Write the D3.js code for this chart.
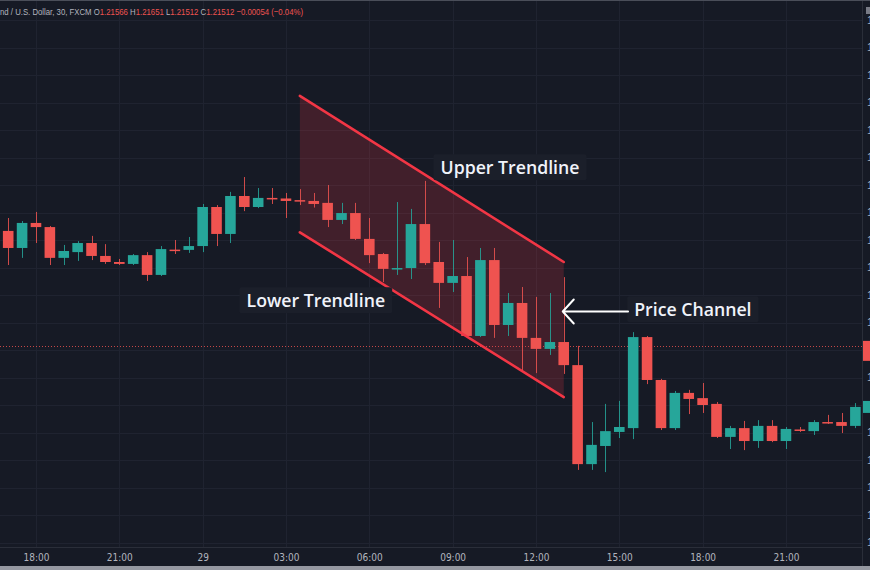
<!DOCTYPE html>
<html>
<head>
<meta charset="utf-8">
<title>GBP/USD 30 min, price channel</title>
<script src="https://d3js.org/d3.v7.min.js"></script>
<style>
  body { margin: 0; background: #161a25; }
  svg { display: block; }
</style>
</head>
<body>
<div id="chart"></div>
<script>

// candles, 30 min each, first one at 16:30 (index -1)
var firstIndex = -1;
var opens = [1.22100, 1.21933, 1.21871, 1.21962, 1.21947, 1.21835, 1.21856, 1.21889, 1.21842, 1.21820,
  1.21813, 1.21845, 1.21773, 1.21865, 1.21864, 1.21878, 1.22020, 1.21922, 1.22060, 1.22020,
  1.22053, 1.22051, 1.22045, 1.22042, 1.22035, 1.21973, 1.21998, 1.21904, 1.21849, 1.21795,
  1.21798, 1.21958, 1.21820, 1.21744, 1.21769, 1.21551, 1.21827, 1.21591, 1.21671, 1.21544,
  1.21504, 1.21529, 1.21445, 1.21085, 1.21151, 1.21202, 1.21216, 1.21547, 1.21391, 1.21216,
  1.21344, 1.21325, 1.21304, 1.21184, 1.21216, 1.21169, 1.21224, 1.21169, 1.21211, 1.21205,
  1.21238, 1.21238, 1.21224];
var highs = [1.22118, 1.21980, 1.21969, 1.22002, 1.21951, 1.21882, 1.21896, 1.21915, 1.21885, 1.21831,
  1.21849, 1.21856, 1.21878, 1.21900, 1.21911, 1.22031, 1.22027, 1.22075, 1.22129, 1.22089,
  1.22089, 1.22071, 1.22085, 1.22071, 1.22100, 1.22035, 1.22035, 1.21980, 1.21853, 1.22038,
  1.22013, 1.22115, 1.21893, 1.21900, 1.21838, 1.21871, 1.21871, 1.21707, 1.21729, 1.21693,
  1.21707, 1.21765, 1.21515, 1.21238, 1.21304, 1.21315, 1.21565, 1.21551, 1.21395, 1.21351,
  1.21355, 1.21380, 1.21311, 1.21224, 1.21242, 1.21245, 1.21245, 1.21220, 1.21220, 1.21245,
  1.21264, 1.21271, 1.21307];
var lows = [1.21925, 1.21809, 1.21835, 1.21889, 1.21809, 1.21809, 1.21824, 1.21827, 1.21813, 1.21809,
  1.21809, 1.21751, 1.21769, 1.21849, 1.21853, 1.21856, 1.21878, 1.21889, 1.22005, 1.22016,
  1.22031, 1.21980, 1.22027, 1.22018, 1.21947, 1.21958, 1.21900, 1.21816, 1.21747, 1.21773,
  1.21758, 1.21809, 1.21653, 1.21711, 1.21547, 1.21547, 1.21544, 1.21551, 1.21420, 1.21416,
  1.21482, 1.21413, 1.21064, 1.21064, 1.21056, 1.21180, 1.21176, 1.21376, 1.21209, 1.21209,
  1.21267, 1.21271, 1.21180, 1.21140, 1.21136, 1.21144, 1.21165, 1.21140, 1.21202, 1.21191,
  1.21231, 1.21198, 1.21216];
var closes = [1.21933, 1.21871, 1.21962, 1.21947, 1.21835, 1.21860, 1.21889, 1.21842, 1.21820, 1.21813,
  1.21845, 1.21773, 1.21867, 1.21862, 1.21878, 1.22020, 1.21922, 1.22060, 1.22020, 1.22053,
  1.22049, 1.22042, 1.22040, 1.22031, 1.21973, 1.21998, 1.21904, 1.21845, 1.21795, 1.21798,
  1.21958, 1.21816, 1.21744, 1.21769, 1.21551, 1.21827, 1.21591, 1.21671, 1.21544, 1.21504,
  1.21529, 1.21445, 1.21085, 1.21155, 1.21205, 1.21220, 1.21547, 1.21391, 1.21216, 1.21344,
  1.21322, 1.21300, 1.21184, 1.21216, 1.21169, 1.21224, 1.21169, 1.21213, 1.21207, 1.21238,
  1.21235, 1.21224, 1.21293];

// time axis
var tickIndex = [2, 8, 14, 20, 26, 32, 38, 44, 50, 56];
var tickLabels = ["18:00", "21:00", "29", "03:00", "06:00", "09:00", "12:00", "15:00", "18:00", "21:00"];

// price grid every 0.001
var priceTicks = d3.range(1.208, 1.2275, 0.001);

// drawn channel (candle index, price)
var channelUpper = [[21, 1.22424], [40, 1.21820]];
var channelLower = [[21, 1.21928], [40, 1.21329]];

// other lines
var markedPrice = 1.21515;
var lastPrice = 1.21293;

// legend line: [text, is value]
var legendParts = [["nd / U.S. Dollar, 30, FXCM ", 0], ["O", 0], ["1.21566 ", 1], ["H", 0], ["1.21651 ", 1],
  ["L", 0], ["1.21512 ", 1], ["C", 0], ["1.21512 ", 1], ["\u22120.00054 (\u22120.04%)", 1]];

var W = 870, H = 570;
var plotRight = 862, plotBottom = 547;

var svg = d3.select("#chart").append("svg")
  .attr("width", W).attr("height", H)
  .style("font-family", "'Liberation Sans', Arial, sans-serif");

svg.append("rect").attr("width", W).attr("height", H).attr("fill", "#161a25");

var x = d3.scaleLinear().domain([0, 60]).range([8.2, 841.5]);
var y = d3.scaleLinear().domain([1.208, 1.227]).range([542.5, 20]);
var bodyW = 10.6;

svg.append("defs").append("clipPath").attr("id", "plotClip")
  .append("rect").attr("x", 0).attr("y", 0).attr("width", plotRight).attr("height", plotBottom);

var plot = svg.append("g").attr("clip-path", "url(#plotClip)");

// grid
plot.selectAll(".hgrid").data(priceTicks).enter().append("line")
  .attr("x1", 0).attr("x2", plotRight)
  .attr("y1", function(d) { return Math.round(y(d)) + 0.5; })
  .attr("y2", function(d) { return Math.round(y(d)) + 0.5; })
  .attr("stroke", "#1f2330").attr("stroke-width", 1);

plot.selectAll(".vgrid").data(tickIndex).enter().append("line")
  .attr("y1", 0).attr("y2", plotBottom)
  .attr("x1", function(d) { return Math.round(x(d)) + 0.5; })
  .attr("x2", function(d) { return Math.round(x(d)) + 0.5; })
  .attr("stroke", "#1f2330").attr("stroke-width", 1);

// dotted price line
plot.append("line")
  .attr("x1", 0).attr("x2", plotRight)
  .attr("y1", Math.round(y(markedPrice)) + 0.5).attr("y2", Math.round(y(markedPrice)) + 0.5)
  .attr("stroke", "#ef5350").attr("stroke-opacity", 0.8)
  .attr("stroke-dasharray", "1,2");

// channel fill
var poly = [channelUpper[0], channelUpper[1], channelLower[1], channelLower[0]];
plot.append("path")
  .attr("d", d3.line().x(function(d) { return x(d[0]); }).y(function(d) { return y(d[1]); })(poly) + "Z")
  .attr("fill", "rgba(242,54,69,0.2)");

// candles
var candles = opens.map(function(o, k) {
  return { i: k + firstIndex, o: o, h: highs[k], l: lows[k], c: closes[k] };
});
function col(d) { return d.c >= d.o ? "#26a69a" : "#ef5350"; }

var cg = plot.selectAll(".candle").data(candles).enter().append("g");
cg.append("line")
  .attr("x1", function(d) { return Math.round(x(d.i)) + 0.5; })
  .attr("x2", function(d) { return Math.round(x(d.i)) + 0.5; })
  .attr("y1", function(d) { return y(d.h); })
  .attr("y2", function(d) { return y(d.l); })
  .attr("stroke", col).attr("stroke-width", 1).attr("stroke-opacity", 0.85);
cg.append("rect")
  .attr("x", function(d) { return x(d.i) - bodyW / 2; })
  .attr("width", bodyW)
  .attr("y", function(d) { return y(Math.max(d.o, d.c)); })
  .attr("height", function(d) { return Math.max(1.5, Math.abs(y(d.o) - y(d.c))); })
  .attr("fill", col);

// channel lines
[channelUpper, channelLower].forEach(function(seg) {
  plot.append("line")
    .attr("x1", x(seg[0][0])).attr("y1", y(seg[0][1]))
    .attr("x2", x(seg[1][0])).attr("y2", y(seg[1][1]))
    .attr("stroke", "#f23645").attr("stroke-width", 2.6)
    .attr("stroke-linecap", "round");
});

// annotations: [text, candle index, price]
var notes = [
  ["Upper Trendline", 36.13, 1.22162],
  ["Lower Trendline", 22.15, 1.21678],
  ["Price Channel", 49.3, 1.21645]
];
notes.forEach(function(n) {
  var t = plot.append("text")
    .attr("x", x(n[1])).attr("y", y(n[2]))
    .attr("text-anchor", "middle").attr("dy", "0.35em")
    .attr("font-family", "'Open Sans', 'Noto Sans', sans-serif")
    .attr("font-weight", 600).attr("font-size", 17.7)
    .attr("fill", "#f0f3fa").text(n[0]);
  var bb = t.node().getBBox();
  plot.insert("rect", function() { return t.node(); })
    .attr("x", bb.x - 7).attr("y", bb.y - 1)
    .attr("width", bb.width + 14).attr("height", bb.height + 2)
    .attr("fill", "#1b1f2a").attr("rx", 2);
});

// arrow to the channel
var arrowFrom = [44.63, 1.21640], arrowTo = [39.93, 1.21640];
var ax0 = x(arrowFrom[0]), ax1 = x(arrowTo[0]), ay = y(arrowTo[1]);
plot.append("path")
  .attr("d", "M" + ax0 + "," + ay + "H" + ax1 + "M" + (ax1 + 11) + "," + (ay - 12) + "L" + ax1 + "," + ay + "L" + (ax1 + 11) + "," + (ay + 12))
  .attr("fill", "none").attr("stroke", "#ffffff").attr("stroke-width", 2)
  .attr("stroke-linecap", "round").attr("stroke-linejoin", "round");

// price axis (mostly cut off by the frame)
svg.append("line").attr("x1", plotRight + 0.5).attr("x2", plotRight + 0.5)
  .attr("y1", 0).attr("y2", H).attr("stroke", "#2a2e39");
svg.selectAll(".plab").data(priceTicks).enter().append("text")
  .attr("x", plotRight + 5).attr("y", function(d) { return y(d); })
  .attr("dy", "0.35em").attr("font-size", 11).attr("fill", "#b2b5be")
  .text(function(d) { return d.toFixed(5); });
svg.append("rect").attr("x", plotRight + 1).attr("y", y(markedPrice) - 5)
  .attr("width", 10).attr("height", 20).attr("fill", "#ef5350");
svg.append("rect").attr("x", plotRight + 1).attr("y", y(lastPrice) - 6)
  .attr("width", 10).attr("height", 12).attr("fill", "#26a69a");
svg.append("rect").attr("x", 866).attr("y", 7).attr("width", 4).attr("height", 7).attr("fill", "#787b86");

// time axis
svg.append("line").attr("x1", 0).attr("x2", plotRight)
  .attr("y1", plotBottom + 0.5).attr("y2", plotBottom + 0.5).attr("stroke", "#2a2e39");
var xAxis = d3.axisBottom(x).tickValues(tickIndex)
  .tickFormat(function(d, k) { return tickLabels[k]; }).tickSize(0).tickPadding(7);
var ax = svg.append("g").attr("transform", "translate(0," + plotBottom + ")").call(xAxis);
ax.select(".domain").remove();
ax.selectAll("text").attr("fill", "#b2b5be").attr("font-size", 10)
  .attr("font-family", "'Liberation Sans Narrow', 'DejaVu Sans Condensed', 'Liberation Sans', sans-serif");

// frame edges
svg.append("line").attr("x1", 0).attr("x2", W).attr("y1", 0.5).attr("y2", 0.5).attr("stroke", "#4a4e59");
svg.append("rect").attr("x", 0).attr("y", 566).attr("width", W).attr("height", 4).attr("fill", "#9598a1");

// legend: one text, squeezed to the width it has in the screenshot
var legend = svg.append("text")
  .attr("x", 0).attr("y", 15).attr("font-size", 9.5)
  .attr("textLength", 303).attr("lengthAdjust", "spacingAndGlyphs");
legend.selectAll("tspan").data(legendParts).enter().append("tspan")
  .attr("fill", function(d) { return d[1] ? "#ef5350" : "#b2b5be"; })
  .text(function(d) { return d[0]; });

</script>
</body>
</html>
